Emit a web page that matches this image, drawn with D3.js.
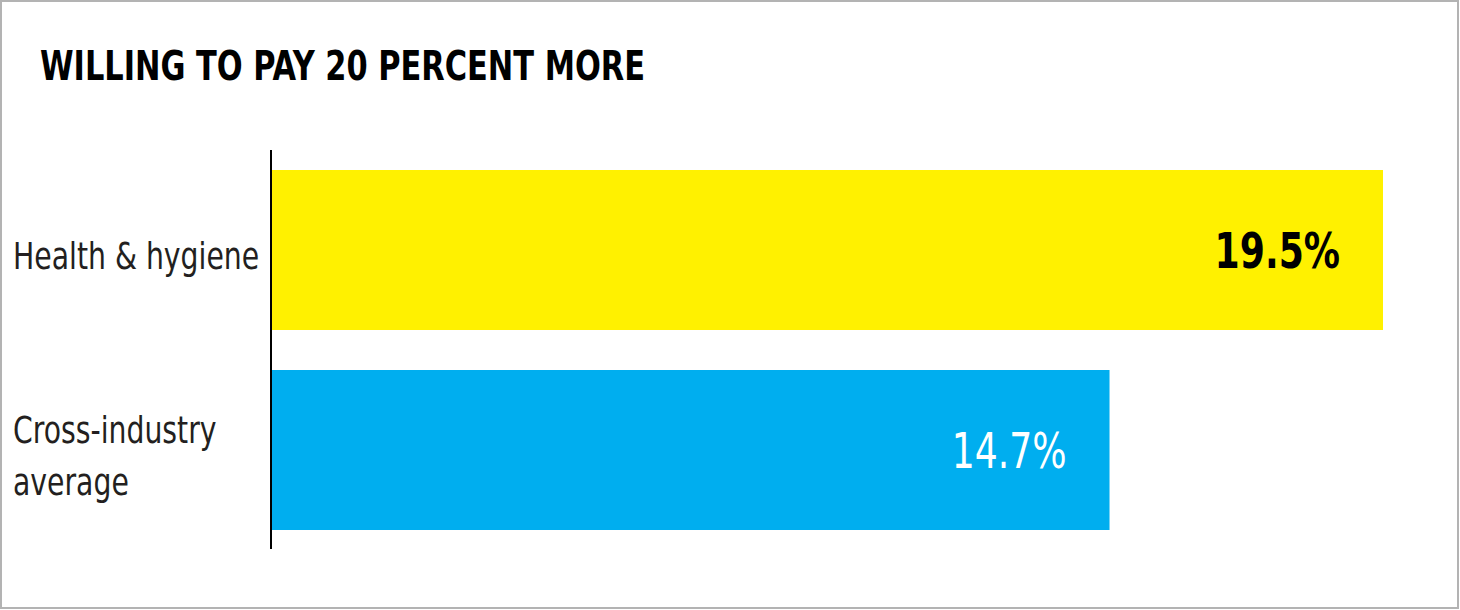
<!DOCTYPE html>
<meta charset="utf-8">
<style>
body { margin: 0; background: #fff; }
svg text { font-family: "DejaVu Sans Condensed", "DejaVu Sans", sans-serif; }
</style>
<body>
<script src="https://cdnjs.cloudflare.com/ajax/libs/d3/7.8.5/d3.min.js"></script>
<script>
// data
var title = "WILLING TO PAY 20 PERCENT MORE";
var categories = ["Health & hygiene", "Cross-industry average"];
var labelLines = [["Health & hygiene"], ["Cross-industry", "average"]];
var values = [19.5, 14.7];
var barColors = ["#fff100", "#00aeef"];
var valueColors = ["#000", "#fff"];
var valueWeights = ["bold", "normal"];

var w = 1460, h = 610;
// the original face is narrower than anything installed, squeeze horizontally
var squeeze = 0.82;

var svg = d3.select("body").append("svg")
	.attr("width", w)
	.attr("height", h);

// frame
svg.append("rect")
	.attr("x", 1).attr("y", 1)
	.attr("width", w - 3).attr("height", h - 3)
	.attr("fill", "#fff")
	.attr("stroke", "#b3b3b3")
	.attr("stroke-width", 2);

svg.append("text")
	.attr("transform", "translate(40,80) scale(0.825,1)")
	.attr("font-size", 41)
	.attr("font-weight", "bold")
	.attr("fill", "#000")
	.text(title);

var x = d3.scaleLinear()
	.domain([0, 19.5])
	.range([272, 1383]);

var y = d3.scaleBand()
	.domain(categories)
	.range([150, 550])
	.paddingInner(0.2)
	.paddingOuter(0.1);

svg.selectAll("rect.bar")
	.data(values)
	.enter()
	.append("rect")
	.attr("class", "bar")
	.attr("x", x(0))
	.attr("y", function(d, i) { return y(categories[i]); })
	.attr("width", function(d) { return x(d) - x(0); })
	.attr("height", y.bandwidth())
	.attr("fill", function(d, i) { return barColors[i]; });

// axis line
svg.append("line")
	.attr("x1", 271).attr("x2", 271)
	.attr("y1", 150).attr("y2", 549)
	.attr("stroke", "#000")
	.attr("stroke-width", 2);

// value labels
svg.selectAll("text.val")
	.data(values)
	.enter()
	.append("text")
	.attr("class", "val")
	.attr("transform", function(d, i) {
		var tx = x(d) - 43;
		var ty = y(categories[i]) + y.bandwidth() / 2 + 18;
		return "translate(" + tx + "," + ty + ") scale(" + squeeze + ",1)";
	})
	.attr("text-anchor", "end")
	.attr("font-size", 49)
	.attr("font-weight", function(d, i) { return valueWeights[i]; })
	.attr("fill", function(d, i) { return valueColors[i]; })
	.text(function(d) { return d.toFixed(1) + "%"; });

// category labels
var lineH = 53;
svg.selectAll("text.cat")
	.data(labelLines)
	.enter()
	.append("text")
	.attr("class", "cat")
	.attr("transform", function(d, i) {
		var mid = y(categories[i]) + y.bandwidth() / 2;
		var ty = mid + 19 - (d.length - 1) * lineH / 2;
		return "translate(13," + ty + ") scale(0.85,1)";
	})
	.attr("font-size", 37)
	.attr("fill", "#231f20")
	.each(function(d) {
		var t = d3.select(this);
		d.forEach(function(line, j) {
			t.append("tspan")
				.attr("x", 0)
				.attr("dy", j ? lineH : 0)
				.text(line);
		});
	});
</script>
</body>
